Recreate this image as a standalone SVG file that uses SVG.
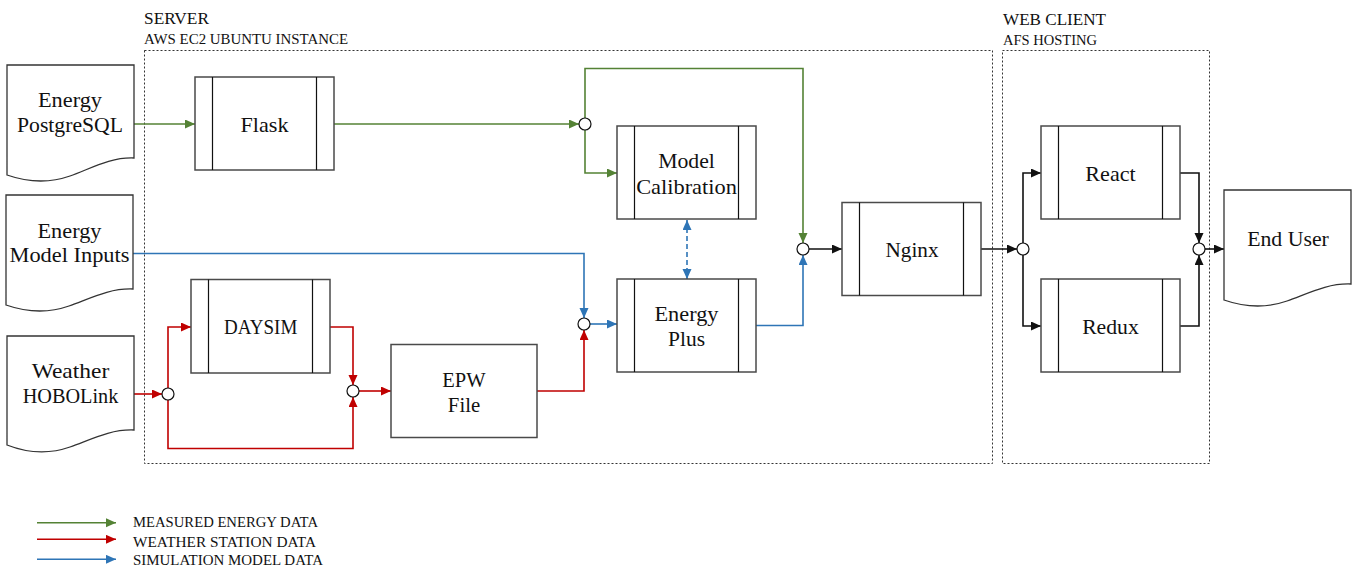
<svg xmlns="http://www.w3.org/2000/svg" width="1354" height="567" viewBox="0 0 1354 567">
<style>
  text { font-family: "Liberation Serif", "Times New Roman", serif; fill: #111; }
  .node { font-size: 22px; text-anchor: middle; }
  .hdr { font-size: 17.5px; }
  .sub { font-size: 15px; }
  .leg { font-size: 15px; }
  .outer { fill: #fff; stroke: #4a4a4a; stroke-width: 1.5; }
  .inner { stroke: #111; stroke-width: 1.2; fill: none; }
  .doc { fill: #fff; stroke: #333; stroke-width: 1.3; }
  .area { fill: none; stroke: #333; stroke-width: 1; stroke-dasharray: 2 2; }
  .jn { fill: #fff; stroke: #111; stroke-width: 1.2; }
  .g { fill: none; stroke: #548235; stroke-width: 1.6; marker-end: url(#ag); }
  .r { fill: none; stroke: #C00000; stroke-width: 1.6; marker-end: url(#ar); }
  .b { fill: none; stroke: #2E75B6; stroke-width: 1.6; marker-end: url(#ab); }
  .k { fill: none; stroke: #111; stroke-width: 1.6; marker-end: url(#ak); }
</style>
<defs>
  <marker id="ag" markerUnits="userSpaceOnUse" markerWidth="11" markerHeight="10" refX="10" refY="4.5" orient="auto"><path d="M0,0 L10,4.5 L0,9 z" fill="#548235"/></marker>
  <marker id="ar" markerUnits="userSpaceOnUse" markerWidth="11" markerHeight="10" refX="10" refY="4.5" orient="auto"><path d="M0,0 L10,4.5 L0,9 z" fill="#C00000"/></marker>
  <marker id="ab" markerUnits="userSpaceOnUse" markerWidth="11" markerHeight="10" refX="10" refY="4.5" orient="auto-start-reverse"><path d="M0,0 L10,4.5 L0,9 z" fill="#2E75B6"/></marker>
  <marker id="ak" markerUnits="userSpaceOnUse" markerWidth="11" markerHeight="10" refX="10" refY="4.5" orient="auto"><path d="M0,0 L10,4.5 L0,9 z" fill="#111"/></marker>
</defs>
<rect width="1354" height="567" fill="#fff"/>

<!-- areas -->
<g id="server-area">
  <rect class="area" x="144.5" y="50.5" width="848" height="413"/>
  <text class="hdr" x="144" y="24" textLength="65" lengthAdjust="spacingAndGlyphs">SERVER</text>
  <text class="sub" x="144" y="43.5" textLength="204" lengthAdjust="spacingAndGlyphs">AWS EC2 UBUNTU INSTANCE</text>
</g>
<g id="client-area">
  <rect class="area" x="1002.5" y="50.5" width="207" height="413"/>
  <text class="hdr" x="1003" y="25" textLength="103" lengthAdjust="spacingAndGlyphs">WEB CLIENT</text>
  <text class="sub" x="1003" y="44.5" textLength="94" lengthAdjust="spacingAndGlyphs">AFS HOSTING</text>
</g>

<!-- connectors -->
<g id="connectors">
  <path class="g" d="M134,124 H195"/>
  <path class="g" d="M334,124 H579"/>
  <path class="g" d="M585,118 V68.5 H803 V243"/>
  <path class="g" d="M585,130 V173 H617"/>
  <path class="b" d="M133,253.5 H584 V318"/>
  <path class="b" d="M590,324 H617"/>
  <path class="b" d="M756,325.5 H803 V255"/>
  <path class="b" d="M687,220 V279" stroke-dasharray="5 3" marker-start="url(#ab)"/>
  <path class="r" d="M134,394 H162"/>
  <path class="r" d="M168,388 V327 H191"/>
  <path class="r" d="M168,400 V448.5 H353 V397"/>
  <path class="r" d="M330,327 H353 V385"/>
  <path class="r" d="M359,391 H391"/>
  <path class="r" d="M537,391 H584 V330"/>
  <path class="k" d="M809,249 H842"/>
  <path class="k" d="M981,249 H1017"/>
  <path class="k" d="M1023,243 V173 H1041"/>
  <path class="k" d="M1023,255 V326 H1041"/>
  <path class="k" d="M1180,173 H1199 V243"/>
  <path class="k" d="M1180,326 H1199 V255"/>
  <path class="k" d="M1205,249 H1224"/>
  <circle class="jn" cx="585" cy="124" r="6"/>
  <circle class="jn" cx="803" cy="249" r="6"/>
  <circle class="jn" cx="584" cy="324" r="6"/>
  <circle class="jn" cx="168" cy="394" r="6"/>
  <circle class="jn" cx="353" cy="391" r="6"/>
  <circle class="jn" cx="1023" cy="249" r="6"/>
  <circle class="jn" cx="1199" cy="249" r="6"/>
</g>

<!-- documents -->
<g id="doc-postgres">
  <path class="doc" d="M7,65 H134 V158 C110,157 90,169 70,176 C50,183 30,183 7,175 Z"/>
  <text class="node" x="70" y="107" textLength="64" lengthAdjust="spacingAndGlyphs">Energy</text>
  <text class="node" x="70" y="131.7" textLength="106" lengthAdjust="spacingAndGlyphs">PostgreSQL</text>
</g>
<g id="doc-model-inputs">
  <path class="doc" d="M6,195 H133 V289 C109,288 89,299 69,306 C49,313 29,313 6,305 Z"/>
  <text class="node" x="69.5" y="237.5" textLength="64" lengthAdjust="spacingAndGlyphs">Energy</text>
  <text class="node" x="69.5" y="262.3" textLength="120" lengthAdjust="spacingAndGlyphs">Model Inputs</text>
</g>
<g id="doc-weather">
  <path class="doc" d="M7,336 H134 V430 C110,429 90,440 70,447 C50,454 30,454 7,445 Z"/>
  <text class="node" x="70.5" y="378.3" textLength="77.6" lengthAdjust="spacingAndGlyphs">Weather</text>
  <text class="node" x="70.5" y="402.7" textLength="95.6" lengthAdjust="spacingAndGlyphs">HOBOLink</text>
</g>
<g id="doc-end-user">
  <path class="doc" d="M1224,190 H1351 V284 C1327,283 1307,294 1287,301 C1267,308 1247,308 1224,300 Z"/>
  <text class="node" x="1288" y="245.7" textLength="81.7" lengthAdjust="spacingAndGlyphs">End User</text>
</g>

<!-- processes -->
<g id="flask">
  <rect class="outer" x="195" y="77" width="139" height="93"/>
  <path class="inner" d="M212.5,77 V170 M316.5,77 V170"/>
  <text class="node" x="264.5" y="131.5" textLength="48" lengthAdjust="spacingAndGlyphs">Flask</text>
</g>
<g id="model-calibration">
  <rect class="outer" x="617" y="126" width="139" height="93"/>
  <path class="inner" d="M634.5,126 V219 M738.5,126 V219"/>
  <text class="node" x="686.5" y="168" textLength="56.7" lengthAdjust="spacingAndGlyphs">Model</text>
  <text class="node" x="686.5" y="194" textLength="100.7" lengthAdjust="spacingAndGlyphs">Calibration</text>
</g>
<g id="energy-plus">
  <rect class="outer" x="617" y="279" width="139" height="93"/>
  <path class="inner" d="M634.5,279 V372 M738.5,279 V372"/>
  <text class="node" x="686.5" y="321" textLength="64" lengthAdjust="spacingAndGlyphs">Energy</text>
  <text class="node" x="686.5" y="346" textLength="37" lengthAdjust="spacingAndGlyphs">Plus</text>
</g>
<g id="daysim">
  <rect class="outer" x="191" y="279.5" width="139" height="93.5"/>
  <path class="inner" d="M208.5,279.5 V373 M312.5,279.5 V373"/>
  <text class="node" x="260.7" y="334.3" textLength="73.3" lengthAdjust="spacingAndGlyphs">DAYSIM</text>
</g>
<g id="epw-file">
  <rect class="outer" x="391" y="344.5" width="146" height="93"/>
  <text class="node" x="464" y="386.7" textLength="43.3" lengthAdjust="spacingAndGlyphs">EPW</text>
  <text class="node" x="464" y="411.7" textLength="32.3" lengthAdjust="spacingAndGlyphs">File</text>
</g>
<g id="nginx">
  <rect class="outer" x="842" y="202.5" width="139" height="93"/>
  <path class="inner" d="M859.5,202.5 V295.5 M963.5,202.5 V295.5"/>
  <text class="node" x="912" y="257" textLength="53" lengthAdjust="spacingAndGlyphs">Nginx</text>
</g>
<g id="react">
  <rect class="outer" x="1041" y="126" width="139" height="93"/>
  <path class="inner" d="M1058.5,126 V219 M1162.5,126 V219"/>
  <text class="node" x="1110.5" y="181" textLength="50.3" lengthAdjust="spacingAndGlyphs">React</text>
</g>
<g id="redux">
  <rect class="outer" x="1041" y="279" width="139" height="93"/>
  <path class="inner" d="M1058.5,279 V372 M1162.5,279 V372"/>
  <text class="node" x="1110.5" y="334" textLength="56.7" lengthAdjust="spacingAndGlyphs">Redux</text>
</g>

<!-- legend -->
<g id="legend">
  <path class="g" d="M37,522.7 H116"/>
  <path class="r" d="M37,539.3 H116"/>
  <path class="b" d="M37,559.3 H116"/>
  <text class="leg" x="133" y="527.3" textLength="185" lengthAdjust="spacingAndGlyphs">MEASURED ENERGY DATA</text>
  <text class="leg" x="133" y="546.5" textLength="183" lengthAdjust="spacingAndGlyphs">WEATHER STATION DATA</text>
  <text class="leg" x="133" y="564.8" textLength="190" lengthAdjust="spacingAndGlyphs">SIMULATION MODEL DATA</text>
</g>
</svg>
